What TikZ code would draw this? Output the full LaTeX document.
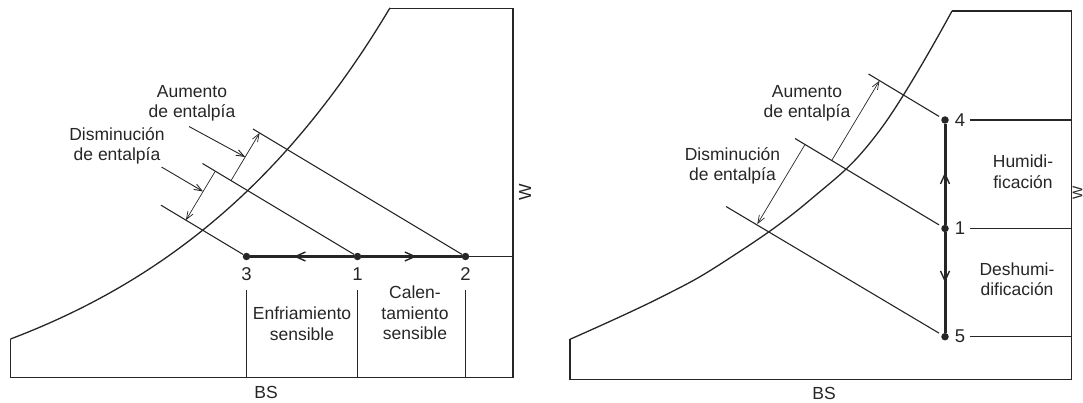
\documentclass[tikz,border=0pt]{standalone}
\usepackage{fontspec}
\setmainfont{Liberation Sans}
\usetikzlibrary{arrows.meta,decorations.markings}
\definecolor{ink}{gray}{0.15}
\tikzset{
  frame/.style={draw=ink, line width=1.2pt},
  satcurve/.style={draw=ink, line width=1.3pt},
  enth/.style={draw=ink, line width=1.1pt},
  dimarrow/.style={draw=ink, line width=0.7pt, -{Straight Barb[length=8pt,width=6pt]}},
  leader/.style={draw=ink, line width=0.9pt, -{Straight Barb[length=8pt,width=6pt]}},
  process/.style={draw=ink, line width=3pt},
  midarrow/.style={postaction={decorate}, decoration={markings,
      mark=at position #1 with {\arrow{Straight Barb[length=10pt,width=9pt,line width=1.4pt]}}}},
  dot/.style={circle, fill=ink, inner sep=0pt, minimum size=7.5pt},
  lbl/.style={font=\fontsize{17.5}{20.5}\selectfont, text=ink, inner sep=0pt, align=center},
  num/.style={font=\fontsize{18.5}{20}\selectfont, text=ink, inner sep=0pt},
  axis/.style={font=\fontsize{17.5}{20}\selectfont, text=ink, inner sep=0pt, rotate=90},
}
\begin{document}
\begin{tikzpicture}[x=1pt, y=-1pt]
\useasboundingbox (0,0) rectangle (1083,403);

% ================= LEFT DIAGRAM =================
\draw[frame] (390,8.5) -- (513,8.5) -- (513,377.5) -- (10.5,377.5) -- (10.5,339);
\draw[satcurve] plot[domain=10.5:390, samples=90] (\x, {339-97.3*(exp(0.003903*(\x-10.5))-1)});

\node[dot] (L3) at (246.5,256.5) {};
\node[dot] (L1) at (357.5,256.5) {};
\node[dot] (L2) at (465.5,256.5) {};
\coordinate (Lend) at (513,256.5);

\draw[process, midarrow=0.58] (L1) -- (L3);
\draw[process, midarrow=0.55] (L1) -- (L2);
\draw[frame, line width=1.1pt] (L2) -- (Lend);

\node[num] (n3) at (246.5,274) {3};
\node[num] (n1) at (357.5,274) {1};
\node[num] (n2) at (465.5,274) {2};

\coordinate (v3t) at (246.5,290); \coordinate (v3b) at (246.5,377.5);
\coordinate (v1t) at (357.5,290); \coordinate (v1b) at (357.5,377.5);
\coordinate (v2t) at (465.5,290); \coordinate (v2b) at (465.5,377.5);
\draw[frame, line width=1.1pt] (v3t) -- (v3b);
\draw[frame, line width=1.1pt] (v1t) -- (v1b);
\draw[frame, line width=1.1pt] (v2t) -- (v2b);

\node[lbl] (enf) at (302,323.5) {Enfriamiento\\sensible};
\node[lbl] (cal) at (415,313) {Calen-\\tamiento\\sensible};
\node[lbl] (bsL) at (266,392) {BS};
\node[axis] (wL) at (525,192) {W};

\coordinate (e3) at (161,205.2);
\coordinate (e1) at (202.5,163.5);
\coordinate (e2) at (253,129);
\draw[enth] (L3) -- (e3);
\draw[enth] (L1) -- (e1);
\draw[enth] (L2) -- (e2);

\coordinate (au1) at (231,180.6);
\coordinate (au2) at (259.6,132.9);
\coordinate (di1) at (215.3,171.2);
\coordinate (di2) at (185.9,220.2);
\draw[dimarrow] (au1) -- (au2);
\draw[dimarrow] (di1) -- (di2);

\node[lbl] (auL) at (192,103.5) {Aumento\\de entalpía};
\node[lbl] (diL) at (117,146) {Disminución\\de entalpía};
\coordinate (ldA0) at (189,126.5);
\coordinate (ldA1) at (245.2,157);
\coordinate (ldD0) at (161.5,167);
\coordinate (ldD1) at (203.1,191.5);
\draw[leader] (ldA0) -- (ldA1);
\draw[leader] (ldD0) -- (ldD1);

% ================= RIGHT DIAGRAM =================
\draw[frame] (952,11) -- (1071.7,11) -- (1071.7,379.5) -- (570,379.5) -- (570,339.3);
\draw[satcurve] plot[smooth, tension=0.7] coordinates {(570,339.3) (660,297.7) (726.7,260) (810,200) (880,130) (952,11)};

\node[dot] (R4) at (945,120) {};
\node[dot] (R1) at (945,228.5) {};
\node[dot] (R5) at (945,336.7) {};

\draw[process, midarrow=0.52] (R1) -- (R4);
\draw[process, midarrow=0.5] (R1) -- (R5);

\node[num] (n4) at (960,120) {4};
\node[num] (n1r) at (960,228.5) {1};
\node[num] (n5) at (960,336.7) {5};

\coordinate (h4a) at (969.5,120);   \coordinate (h4b) at (1071.7,120);
\coordinate (h1a) at (969.5,228.5); \coordinate (h1b) at (1071.7,228.5);
\coordinate (h5a) at (969.5,336.7); \coordinate (h5b) at (1071.7,336.7);
\draw[frame, line width=1.1pt] (h4a) -- (h4b);
\draw[frame, line width=1.1pt] (h1a) -- (h1b);
\draw[frame, line width=1.1pt] (h5a) -- (h5b);

\node[lbl] (hum) at (1023,171.5) {Humidi-\\ficación};
\node[lbl] (desh) at (1017,279) {Deshumi-\\dificación};
\node[lbl] (bsR) at (824,393) {BS};
\node[axis, font=\fontsize{14}{16}\selectfont] (wR) at (1077.6,193) {W};

\coordinate (f4) at (868.5,74);
\coordinate (f1) at (795,138.5);
\coordinate (f5) at (726,206.5);
\draw[enth, shorten <=3pt] (R4) -- (f4);
\draw[enth, shorten <=3pt] (R1) -- (f1);
\draw[enth, shorten <=3pt] (R5) -- (f5);

\coordinate (rau1) at (831.7,160.5);
\coordinate (rau2) at (879.5,80.7);
\coordinate (rdi1) at (805,144.5);
\coordinate (rdi2) at (757.3,224.1);
\draw[dimarrow] (rau1) -- (rau2);
\draw[dimarrow] (rdi1) -- (rdi2);

\node[lbl] (auR) at (807,103.3) {Aumento\\de entalpía};
\node[lbl] (diR) at (732.5,166) {Disminución\\de entalpía};
\end{tikzpicture}
\end{document}
